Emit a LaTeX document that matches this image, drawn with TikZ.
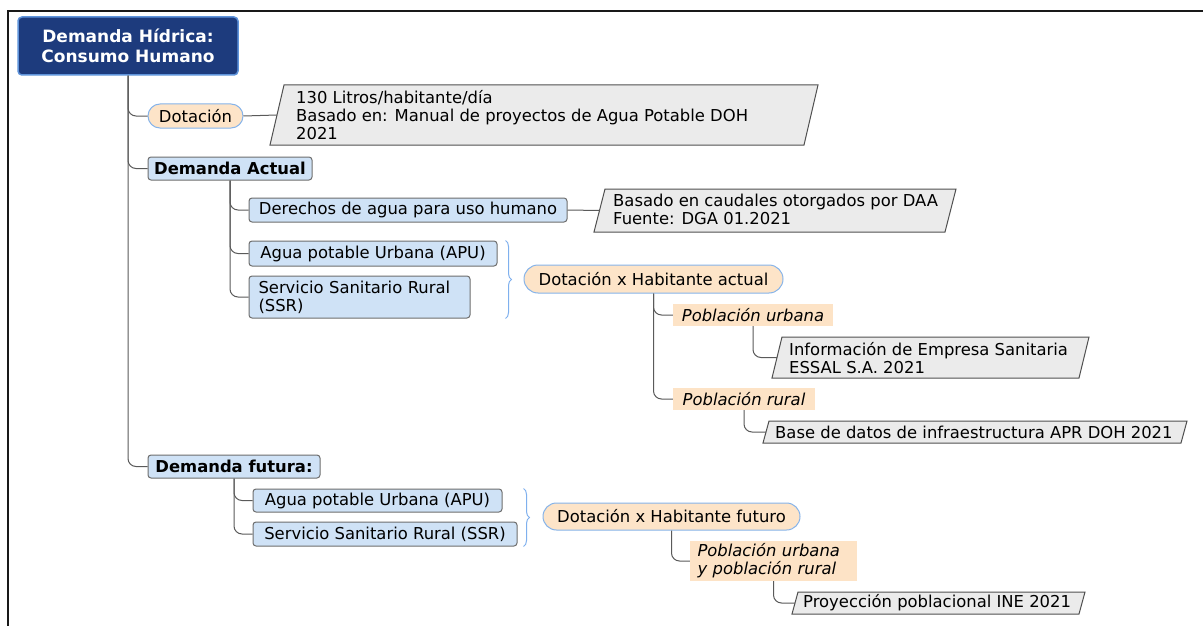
\documentclass[tikz,border=0pt]{standalone}
\usepackage{fontspec}
\setmainfont{DejaVu Sans}
\usetikzlibrary{decorations.pathreplacing}
\definecolor{rootfill}{HTML}{1D3B7D}
\definecolor{rootline}{HTML}{5F94DB}
\definecolor{boxfill}{HTML}{CFE2F6}
\definecolor{boxline}{HTML}{6E6E6E}
\definecolor{pillfill}{HTML}{FDE4C8}
\definecolor{pillline}{HTML}{86B4EA}
\definecolor{peachfill}{HTML}{FDE3C6}
\definecolor{parafill}{HTML}{EBEBEB}
\definecolor{paraline}{HTML}{505050}
\definecolor{connc}{HTML}{5A5A5A}
\definecolor{bracec}{HTML}{7FB0EE}
\newcommand\fsn{\fontsize{16.4}{18}\selectfont}
\begin{document}
\begin{tikzpicture}[x=1pt,y=-1pt,
  rootbox/.style={draw=rootline, fill=rootfill, line width=1.5pt, rounded corners=4pt, inner sep=0pt, align=center, text=white, font=\fontsize{17}{20}\selectfont\bfseries},
  bluebox/.style={draw=boxline, fill=boxfill, line width=1pt, rounded corners=3pt, inner sep=0pt, align=left, font=\fsn},
  boldbox/.style={bluebox, font=\fsn\bfseries},
  pill/.style={draw=pillline, fill=pillfill, line width=1pt, rounded corners=12pt, inner sep=0pt, font=\fsn},
  peach/.style={fill=peachfill, inner sep=0pt, align=left, font=\fsn\itshape},
  paratext/.style={inner sep=0pt, align=left, anchor=west, font=\fsn},
  para/.style={draw=paraline, fill=parafill, line width=1pt},
  conn/.style={draw=connc, line width=1pt, rounded corners=8pt},
  brc/.style={draw=bracec, line width=1pt, decorate, decoration={brace, amplitude=6pt}}
]
\path[fill=white] (0,0) rectangle (1203,626);
\useasboundingbox (0,0) rectangle (1203,626);
\draw[black!90, line width=2pt] (8,626) -- (8,11) -- (1203,11);

% parallelograms
\draw[para] (270,145) -- (284,85) -- (818,85) -- (804,145) -- cycle;
\coordinate (p1in) at (277,115);
\node[paratext] (p1) at (296,115) {130 Litros/habitante/día\\Basado en: Manual de proyectos de Agua Potable DOH\\2021};

\draw[para] (594,232) -- (605,189) -- (956,189) -- (945,232) -- cycle;
\coordinate (p2in) at (599.5,210.5);
\node[paratext] (p2) at (613,209.5) {Basado en caudales otorgados por DAA\\Fuente: DGA 01.2021};

\draw[para] (772,378) -- (782,337) -- (1089,337) -- (1079,378) -- cycle;
\coordinate (p3in) at (777,357.5);
\node[paratext] (p3) at (789,358) {Información de Empresa Sanitaria\\ESSAL S.A. 2021};

\draw[para] (763,443) -- (769,421) -- (1187,421) -- (1181,443) -- cycle;
\coordinate (p4in) at (766,432);
\node[paratext] (p4) at (775,432) {Base de datos de infraestructura APR DOH 2021};

\draw[para] (792,614) -- (798,592) -- (1085,592) -- (1079,614) -- cycle;
\coordinate (p5in) at (795,603);
\node[paratext] (p5) at (803,603) {Proyección poblacional INE 2021};

% nodes
\node[rootbox, minimum width=220pt, minimum height=58pt] (root) at (128,46) {Demanda Hídrica:\\Consumo Humano};
\node[pill, minimum width=95pt, minimum height=24pt] (dot) at (195.5,116) {Dotación};
\node[boldbox, minimum width=164pt, minimum height=23pt] (da) at (230,168.5) {Demanda Actual};
\node[bluebox, minimum width=318pt, minimum height=24pt] (der) at (408,210) {Derechos de agua para uso humano};
\node[bluebox, minimum width=248pt, minimum height=25pt] (apu1) at (373,253.5) {Agua potable Urbana (APU)};
\node[bluebox, minimum width=221pt, minimum height=42pt, text width=202pt] (ssr1) at (359.5,297) {Servicio Sanitario Rural\\(SSR)};
\node[pill, minimum width=259pt, minimum height=28pt, rounded corners=14pt] (dha) at (653.5,279) {Dotación x Habitante actual};
\node[peach, minimum width=160pt, minimum height=22pt] (pu1) at (753,315) {Población urbana};
\node[peach, minimum width=142pt, minimum height=22pt] (pr1) at (744,399) {Población rural};
\node[boldbox, minimum width=172pt, minimum height=23pt] (df) at (234,466.5) {Demanda futura:};
\node[bluebox, minimum width=249pt, minimum height=23pt] (apu2) at (377.5,500.5) {Agua potable Urbana (APU)};
\node[bluebox, minimum width=264pt, minimum height=24pt] (ssr2) at (385,534) {Servicio Sanitario Rural (SSR)};
\node[pill, minimum width=257pt, minimum height=27pt, rounded corners=13.5pt] (dhf) at (671.5,516.5) {Dotación x Habitante futuro};
\node[peach, minimum width=167pt, minimum height=40pt, text width=152pt] (pur) at (773.5,561) {Población urbana\\y población rural};

% connectors
\draw[conn] (root.south) |- (dot.west);
\draw[conn] (root.south) |- (da.west);
\draw[conn] (root.south) |- (df.west);
\draw[conn] (dot.east) -- (p1in);
\draw[conn] (da.south) |- (der.west);
\draw[conn] (da.south) |- (apu1.west);
\draw[conn] (da.south) |- (ssr1.west);
\draw[conn] (der.east) -- (p2in);
\draw[conn] (dha.south) |- (pu1.west);
\draw[conn] (dha.south) |- (pr1.west);
\draw[conn] (pu1.south) |- (p3in);
\draw[conn] (pr1.south) |- (p4in);
\draw[conn] (df.south) |- (apu2.west);
\draw[conn] (df.south) |- (ssr2.west);
\draw[conn] (dhf.south) |- (pur.west);
\draw[conn] (pur.south) |- (p5in);

% braces
\draw[brc] ([xshift=8pt]apu1.north east) -- ([xshift=8pt]apu1.east |- ssr1.south);
\draw[brc] ([xshift=6pt]ssr2.east |- apu2.north) -- ([xshift=6pt]ssr2.south east);
\end{tikzpicture}
\end{document}
